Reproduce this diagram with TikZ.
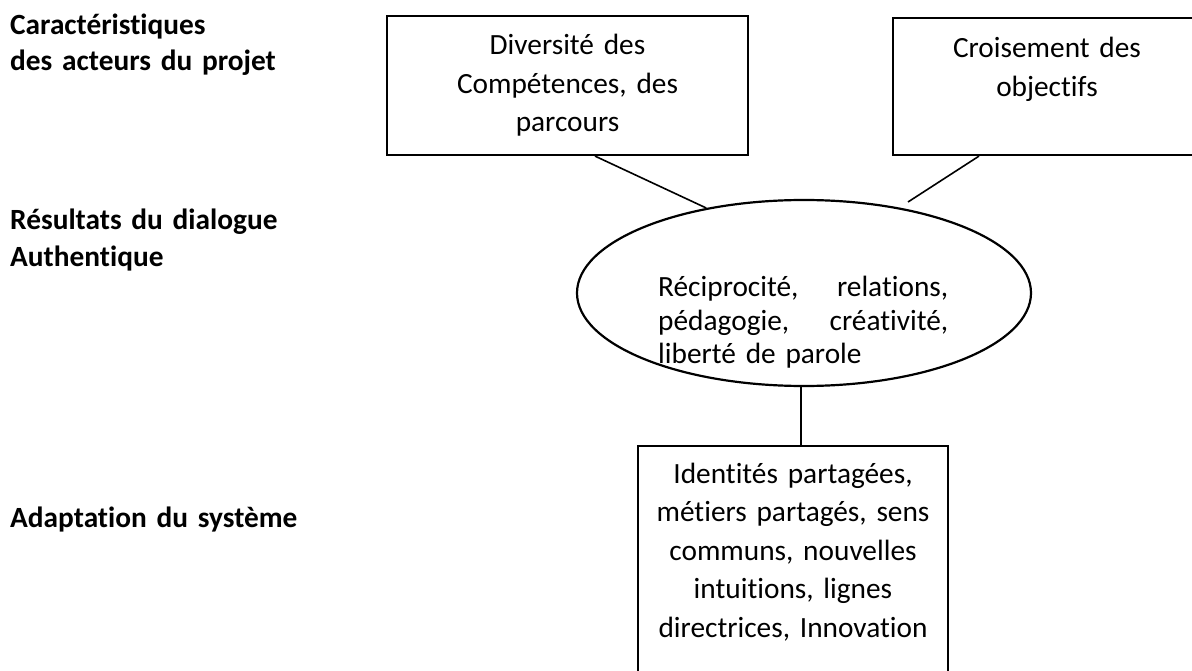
\documentclass[tikz,border=0pt]{standalone}
\usepackage{fontspec}
\setmainfont{Carlito}[Ligatures=NoCommon]
\usetikzlibrary{shapes.geometric}

\begin{document}
\begin{tikzpicture}[x=1pt,y=-1pt,
  every node/.style={font=\fontsize{29.33}{38.5}\selectfont, inner sep=0pt},
  heading/.style={font=\fontsize{29.33}{36}\selectfont\bfseries, text width=330pt, align=left, anchor=base west},
  box/.style={draw, line width=2.2pt},
  boxtext/.style={align=center, anchor=base},
  link/.style={line width=1.6pt}]
    % frame of the page
    \useasboundingbox (0,0) rectangle (1192,671);
    \clip (0,0) rectangle (1192,671);

    % row titles
    \node [heading] (acteurs) at (10,35) {Caractéristiques\\des acteurs du projet};
    \node [heading] (resultats) at (10,230) {Résultats du dialogue\\Authentique};
    \node [heading] (adapt) at (10,527) {Adaptation du système};

    % top boxes
    \node [box, minimum width=361pt, minimum height=139pt] (comp) at (567.5,85.5) {};
    \node [boxtext, text width=361pt] (comptxt) at (567.5,55) {Diversité des\\Compétences, des\\parcours};
    \node [box, minimum width=308pt, minimum height=137pt] (obj) at (1047,86.5) {};
    \node [boxtext, text width=308pt] (objtxt) at (1047,58) {Croisement des\\objectifs};

    % ellipse
    \node [box, ellipse, minimum width=454pt, minimum height=186pt] (dial) at (804,293) {};
    \node [text width=290pt, align=left, anchor=base west, font=\fontsize{29.33}{33.3}\selectfont] (dialtxt) at (658,297)
      {Réciprocité,\hfill relations,\\pédagogie,\hfill créativité,\\liberté de parole};

    % bottom box
    \node [box, minimum width=310pt, minimum height=271pt, anchor=north] (res) at (793,445) {};
    \node [boxtext, text width=310pt] (restxt) at (793,483)
      {Identités partagées,\\métiers partagés, sens\\communs, nouvelles\\intuitions, lignes\\directrices, Innovation};

    % links
    \coordinate (gap) at (908,202);
    \draw [link] ([xshift=27.5pt]comp.south) -- (dial.139);
    \draw [link] ([xshift=-68pt]obj.south) -- (gap);
    \draw [link] ([xshift=8pt]res.north) -- ([xshift=8pt]res.north |- dial.south);
\end{tikzpicture}
\end{document}
